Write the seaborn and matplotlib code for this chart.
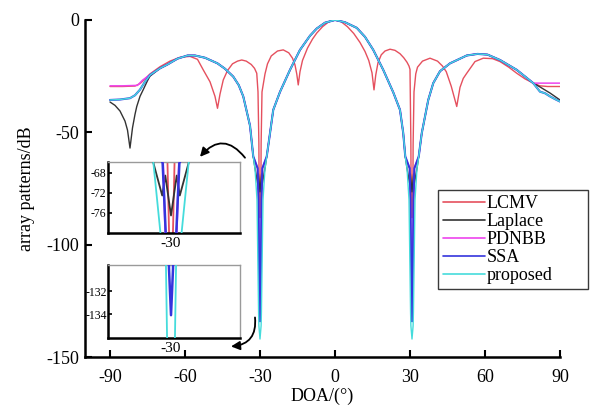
import matplotlib
matplotlib.use("Agg")
import matplotlib.pyplot as plt
import seaborn as sns

# ---------------- data ----------------
lcmv_doa = [-90, -85, -80, -78, -76, -74, -70, -66, -62, -58, -55, -52.7, -50, -48, -47, -46, -44.7, -43, -41, -39,
            -37.3, -35.5, -33.5, -32.2, -31.3, -30.8, -30.45, -30.4, -30.22, -30, -29.78, -29.6, -29.55, -29.2, -28,
            -27, -25.5, -23, -20.7, -18.5, -17, -16, -15.3, -14.7, -14, -13, -11, -9, -7.3, -5, -2.5, 0, 2.5, 5,
            7.5, 10, 12, 13.5, 14.8, 15.6, 16.3, 17.2, 18.5, 20, 22, 24, 26, 27.5, 28.8, 29.6, 30.0, 30.35, 30.4,
            30.58, 30.8, 31.02, 31.2, 31.25, 31.6, 32.3, 33, 35, 38, 41, 43, 44.5, 46.5, 48.7, 50, 51.3, 52.7, 56,
            59.3, 63, 66, 69.5, 72.7, 76, 79.3, 82, 85, 90]
lcmv_db = [-29.6, -29.6, -29.4, -28.3, -26.3, -24, -20.8, -18.3, -16.6, -16.2, -17.5, -22.2, -27.5, -34, -39.3, -33,
           -26.7, -22.5, -19.5, -18.3, -17.8, -18.3, -19.8, -21.5, -23.7, -32, -55, -66, -80, -88, -80, -66, -55,
           -32, -24, -19.5, -16, -13.8, -13.3, -14.6, -17, -20, -24, -28.9, -23, -18, -12.5, -8.5, -5.8, -3, -0.8, 0,
           -0.8, -3, -6, -10, -14, -18, -23.5, -31.1, -24.5, -19, -15.5, -13.8, -13, -13.5, -15, -16.8, -18.8, -20.5,
           -22, -55, -66, -80, -88, -80, -66, -55, -32, -24, -21, -18.3, -17, -18.3, -20.5, -23, -29.5, -38.5, -30,
           -26, -23.7, -18.5, -17, -17.2, -18.5, -21, -23.7, -26.2, -28.1, -29.3, -29.6, -29.6]

laplace_doa = [-90, -88, -86, -84, -83, -82, -81, -80, -79.3, -78, -76.7, -75, -74, -70, -67, -63, -59, -56, -52, -47,
               -44, -40.7, -38.5, -36.7, -34, -32.7, -32.0, -31.0, -30.65, -30, -29.35, -29.0, -28.0, -27.3, -26,
               -24.7, -22, -18, -14, -10, -7.3, -4, 0, 4, 8.7, 12, 15.3, 19.3, 23.3, 26, 27.3, 28.1, 28.8, 29.8,
               30.15, 30.8, 31.45, 31.8, 32.8, 33.5, 34.7, 37.3, 39.3, 42, 46, 52.7, 57, 61, 66, 72.7, 79.3, 82, 86, 90]
laplace_db = [-36.5, -38, -40.5, -45, -49, -57, -48, -42, -38.5, -34, -31, -27, -25, -21.5, -19.8, -17.2, -15.8, -15.8,
              -16.8, -19.3, -21.7, -25.2, -29, -34, -47, -60.7, -66, -72.5, -68.5, -76.5, -68.5, -72.5, -66, -60.7,
              -50.4, -40, -32, -22.2, -13.3, -7, -3.8, -1.2, 0, -1, -3.5, -7.5, -13.3, -22.2, -32.2, -40, -50.4,
              -60.7, -66, -72.5, -68.5, -76.5, -68.5, -72.5, -66, -60.7, -50.4, -35.6, -28.1, -22.8, -19.3, -15.8,
              -15.1, -15.4, -17.8, -22.2, -28.1, -29.8, -32.5, -35.6]

pdnbb_doa = [-90, -85, -79, -77, -74, -70, -67, -63, -59, -56, -52, -47, -44, -40.7, -38.5, -36.7, -34, -32.7, -30.9,
             -30.65, -30.3, -30, -29.7, -29.35, -29.1, -27.3, -26, -24.7, -22, -18, -14, -10, -7.3, -4, 0, 4, 8.7, 12,
             15.3, 19.3, 23.3, 26, 27.3, 28.1, 29.9, 30.15, 30.5, 30.8, 31.1, 31.45, 31.7, 33.5, 34.7, 37.3, 39.3, 42,
             46, 52.7, 57, 61, 66, 72.7, 79.3, 82, 86, 90]
pdnbb_db = [-29.3, -29.3, -29.1, -26.8, -24.3, -21.5, -19.8, -17.2, -15.8, -15.8, -16.8, -19.3, -21.7, -25.2, -29, -34,
            -47, -60.7, -66, -80, -100, -112, -100, -80, -66, -60.7, -50.4, -40, -32, -22.2, -13.3, -7, -3.8, -1.2, 0,
            -1, -3.5, -7.5, -13.3, -22.2, -32.2, -40, -50.4, -60.7, -66, -80, -100, -112, -100, -80, -66, -60.7,
            -50.4, -35.6, -28.1, -22.8, -19.3, -15.8, -15.1, -15.4, -17.8, -22.2, -28.1, -28.1, -28.1, -28.1]

ssa_doa = [-90, -86, -82, -80, -78, -76, -74, -70, -67, -63, -59, -56, -52, -47, -44, -40.7, -38.5, -36.7, -34, -32.7,
           -30.95, -30.6, -30.23, -30, -29.77, -29.4, -29.05, -27.3, -26, -24.7, -22, -18, -14, -10, -7.3, -4, 0, 4,
           8.7, 12, 15.3, 19.3, 23.3, 26, 27.3, 28.1, 29.85, 30.2, 30.57, 30.8, 31.03, 31.4, 31.75, 33.5, 34.7, 37.3,
           39.3, 42, 46, 52.7, 57, 61, 66, 72.7, 79.3, 82, 84, 86, 88, 90]
ssa_db = [-35.6, -35.4, -34.8, -33.5, -31, -27.5, -24.5, -21.5, -19.8, -17.2, -15.8, -15.8, -16.8, -19.3, -21.7, -25.2,
          -29, -34, -47, -60.7, -66, -80, -130, -134.1, -130, -80, -66, -60.7, -50.4, -40, -32, -22.2, -13.3, -7,
          -3.8, -1.2, 0, -1, -3.5, -7.5, -13.3, -22.2, -32.2, -40, -50.4, -60.7, -66, -80, -130, -134.1, -130, -80,
          -66, -60.7, -50.4, -35.6, -28.1, -22.8, -19.3, -15.8, -15.1, -15.4, -17.8, -22.2, -28.1, -31.9, -32.6, -34,
          -35.2, -36.3]

proposed_doa = [-90, -86, -82, -80, -78, -76, -74, -70, -67, -63, -59, -56, -52, -47, -44, -40.7, -38.5, -36.7, -34,
                -32.7, -32.0, -31.2, -30.57, -30.45, -30, -29.55, -29.43, -28.8, -28.0, -27.3, -26, -24.7, -22, -18,
                -14, -10, -7.3, -4, 0, 4, 8.7, 12, 15.3, 19.3, 23.3, 26, 27.3, 28.1, 28.8, 29.6, 30.23, 30.35, 30.8,
                31.25, 31.37, 32.0, 32.8, 33.5, 34.7, 37.3, 39.3, 42, 46, 52.7, 57, 61, 66, 72.7, 79.3, 82, 84, 86,
                88, 90]
proposed_db = [-35.6, -35.4, -34.8, -33.5, -31, -27.5, -24.5, -21.5, -19.8, -17.2, -15.8, -15.8, -16.8, -19.3, -21.7,
               -25.2, -29, -34, -47, -60.7, -66, -80, -130, -136, -142, -136, -130, -80, -66, -60.7, -50.4, -40, -32,
               -22.2, -13.3, -7, -3.8, -1.2, 0, -1, -3.5, -7.5, -13.3, -22.2, -32.2, -40, -50.4, -60.7, -66, -80,
               -130, -136, -142, -136, -130, -80, -66, -60.7, -50.4, -35.6, -28.1, -22.8, -19.3, -15.8, -15.1, -15.4,
               -17.8, -22.2, -28.1, -31.9, -32.6, -34, -35.2, -36.3]

names = ["LCMV", "Laplace", "PDNBB", "SSA", "proposed"]
x_ticks = [-90, -60, -30, 0, 30, 60, 90]
y_ticks = [0, -50, -100, -150]
inset1_yticks = [-68, -72, -76]
inset2_yticks = [-132, -134]
inset_xticks = [-30]

# ---------------- style ----------------
sns.set_theme(style="white")
plt.rcParams['font.family'] = ['Liberation Serif', 'DejaVu Serif']
plt.rcParams['axes.unicode_minus'] = False
plt.rcParams['text.color'] = 'black'
plt.rcParams['axes.labelcolor'] = 'black'
plt.rcParams['xtick.color'] = 'black'
plt.rcParams['ytick.color'] = 'black'

series = [
    (lcmv_doa, lcmv_db, '#e5505e', 1.0, 2),
    (laplace_doa, laplace_db, '#333333', 1.0, 3),
    (pdnbb_doa, pdnbb_db, '#ee44ee', 1.1, 4),
    (ssa_doa, ssa_db, '#3535dd', 1.5, 5),
    (proposed_doa, proposed_db, '#45dcdc', 1.0, 6),
]
for (x, y, *_), n in zip(series, names):
    assert len(x) == len(y), n

fig = plt.figure(figsize=(5.92, 4.05), dpi=100)
ax = fig.add_axes([85 / 592, 48 / 405, 475 / 592, 337 / 405])

for (x, y, c, lw, z), n in zip(series, names):
    sns.lineplot(x=x, y=y, ax=ax, color=c, lw=lw, zorder=z, label=n,
                 estimator=None, sort=False)

ax.set_xlim(-100, 90)
ax.set_ylim(-150, 0)
ax.set_xticks(x_ticks)
ax.set_yticks(y_ticks)
ax.set_xlabel("DOA/(°)", fontsize=13, labelpad=1)
ax.set_ylabel("array patterns/dB", fontsize=13, labelpad=8)
for s in ['top', 'right']:
    ax.spines[s].set_visible(False)
for s in ['left', 'bottom']:
    ax.spines[s].set_color('black')
    ax.spines[s].set_linewidth(1.8)
ax.tick_params(direction='in', length=5, width=1.5, labelsize=13, pad=4,
               bottom=True, left=True)
ax.tick_params(axis='x', pad=9)

# legend
handles, labels = ax.get_legend_handles_labels()
leg = ax.legend(handles, labels, loc='upper left',
                bbox_to_anchor=(438 / 592, 1 - 302 / 405, 150 / 592, 112 / 405),
                bbox_transform=fig.transFigure, mode='expand',
                fontsize=13, labelspacing=0.05, handlelength=2.3, handletextpad=0.1,
                borderpad=0.3, borderaxespad=0, fancybox=False, framealpha=1,
                edgecolor='#3a3a3a')
leg.get_frame().set_linewidth(1.0)
leg.set_zorder(10)
for h in leg.get_lines():
    h.set_linewidth(1.2)

# arrows
ax.annotate('', xy=(-54, -60.9), xytext=(-36, -61.3),
            arrowprops=dict(arrowstyle='-|>', connectionstyle='arc3,rad=0.6', color='black',
                            lw=1.3, mutation_scale=13, shrinkA=0, shrinkB=0),
            annotation_clip=False)
ax.annotate('', xy=(-41.6, -145.3), xytext=(-32, -132.4),
            arrowprops=dict(arrowstyle='-|>', connectionstyle='arc3,rad=-0.5', color='black',
                            lw=1.3, mutation_scale=13, shrinkA=0, shrinkB=0),
            annotation_clip=False)

# insets
ins1 = fig.add_axes([108 / 592, 1 - 233 / 405, 132 / 592, 71 / 405])
ins2 = fig.add_axes([108 / 592, 1 - 338 / 405, 132 / 592, 73 / 405])
for ins, ylim, yt in [(ins1, (-80, -65.8), inset1_yticks), (ins2, (-136.1, -129.7), inset2_yticks)]:
    for (x, y, c, lw, z), n in zip(series, names):
        sns.lineplot(x=x, y=y, ax=ins, color=c, lw=lw + 0.3, zorder=z,
                     estimator=None, sort=False, legend=False)
    ins.set_xlim(-37.16, -22.16)
    ins.set_ylim(*ylim)
    ins.set_xticks(inset_xticks)
    ins.set_yticks(yt)
    ins.set_xlabel('')
    ins.set_ylabel('')
    ins.set_facecolor('white')
    for s in ['left', 'bottom']:
        ins.spines[s].set_color('black')
        ins.spines[s].set_linewidth(1.8)
    for s in ['top', 'right']:
        ins.spines[s].set_color('#9a9a9a')
        ins.spines[s].set_linewidth(1.0)
    ins.tick_params(axis='y', direction='in', length=3, width=1.2, labelsize=8.5, pad=1, left=True)
    ins.tick_params(axis='x', direction='in', length=0, labelsize=11, pad=3, bottom=True)

fig.savefig("out.png", dpi=100)
